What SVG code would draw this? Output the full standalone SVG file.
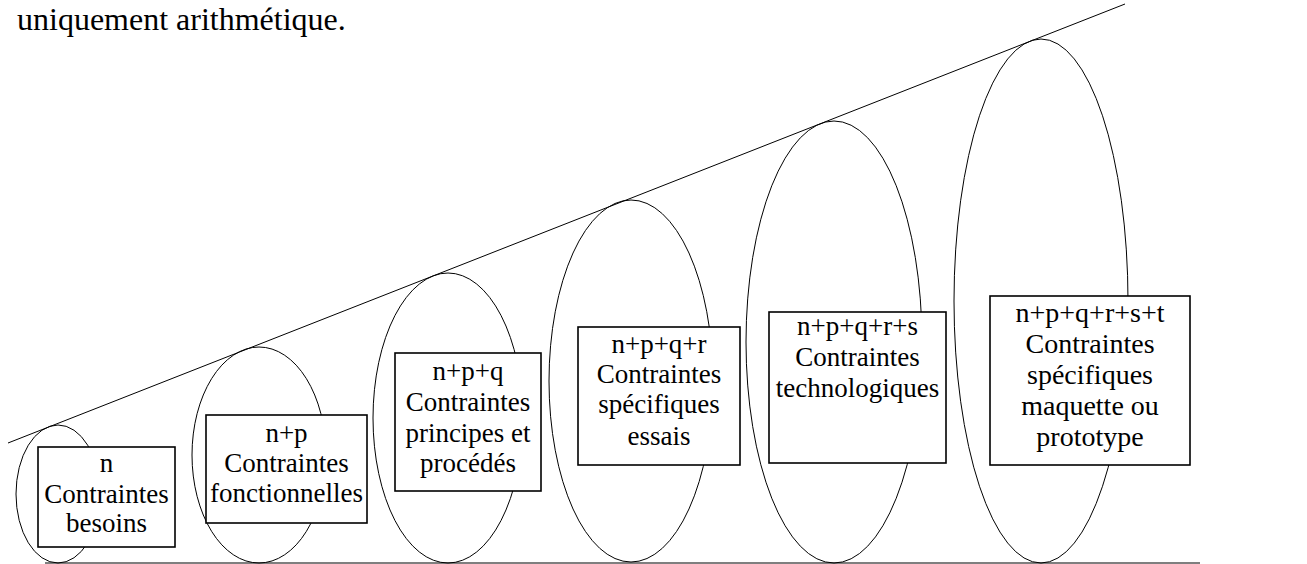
<svg xmlns="http://www.w3.org/2000/svg" width="1307" height="564" viewBox="0 0 1307 564">
<style>
  .bg { fill: #ffffff; }
  .ell { fill: none; stroke: #000; stroke-width: 1; }
  .box { fill: #ffffff; stroke: #000; stroke-width: 1.6; }
  .lbl { font-family: "Liberation Serif", "Times New Roman", serif; font-size: 27px; fill: #000; text-anchor: middle; }
  .big { font-size: 28px; }
  .para { font-family: "Liberation Serif", "Times New Roman", serif; font-size: 32px; fill: #000; }
  .guide { fill: none; stroke: #000; stroke-width: 1; }
  .base { fill: none; stroke: #555; stroke-width: 1.6; }
</style>
<rect class="bg" x="0" y="0" width="1307" height="564"/>
<text class="para" x="17" y="30">uniquement arithmétique.</text>

<g id="connectors">
  <line class="guide" x1="8" y1="443" x2="1125" y2="4"/>
  <line class="base" x1="45" y1="563" x2="1200" y2="563"/>
</g>

<g id="node1">
  <ellipse class="ell" cx="58" cy="494" rx="42" ry="69"/>
  <rect class="box" x="38" y="447" width="137" height="100"/>
  <text class="lbl" x="106.5" y="472">n</text>
  <text class="lbl" x="106.5" y="503">Contraintes</text>
  <text class="lbl" x="106.5" y="532">besoins</text>
</g>

<g id="node2">
  <ellipse class="ell" cx="259" cy="455" rx="67" ry="108"/>
  <rect class="box" x="206" y="415" width="161" height="108"/>
  <text class="lbl" x="286.5" y="442">n+p</text>
  <text class="lbl" x="286.5" y="472">Contraintes</text>
  <text class="lbl" x="286.5" y="502">fonctionnelles</text>
</g>

<g id="node3">
  <ellipse class="ell" cx="448" cy="418" rx="75" ry="145"/>
  <rect class="box" x="395" y="353" width="146" height="138"/>
  <text class="lbl" x="468" y="380">n+p+q</text>
  <text class="lbl" x="468" y="411">Contraintes</text>
  <text class="lbl" x="468" y="442">principes et</text>
  <text class="lbl" x="468" y="472">procédés</text>
</g>

<g id="node4">
  <ellipse class="ell" cx="631" cy="381" rx="82" ry="181"/>
  <rect class="box" x="578" y="327" width="162" height="138"/>
  <text class="lbl" x="659" y="353">n+p+q+r</text>
  <text class="lbl" x="659" y="383">Contraintes</text>
  <text class="lbl" x="659" y="413">spécifiques</text>
  <text class="lbl" x="659" y="445">essais</text>
</g>

<g id="node5">
  <ellipse class="ell" cx="834" cy="342" rx="88" ry="221"/>
  <rect class="box" x="769" y="312" width="177" height="151"/>
  <text class="lbl" x="857.5" y="335">n+p+q+r+s</text>
  <text class="lbl" x="857.5" y="366">Contraintes</text>
  <text class="lbl" x="857.5" y="397">technologiques</text>
</g>

<g id="node6">
  <ellipse class="ell" cx="1041" cy="301" rx="87" ry="262"/>
  <rect class="box" x="990" y="296" width="200" height="169"/>
  <text class="lbl big" x="1090" y="322">n+p+q+r+s+t</text>
  <text class="lbl big" x="1090" y="353">Contraintes</text>
  <text class="lbl big" x="1090" y="384">spécifiques</text>
  <text class="lbl big" x="1090" y="415">maquette ou</text>
  <text class="lbl big" x="1090" y="446">prototype</text>
</g>
</svg>
